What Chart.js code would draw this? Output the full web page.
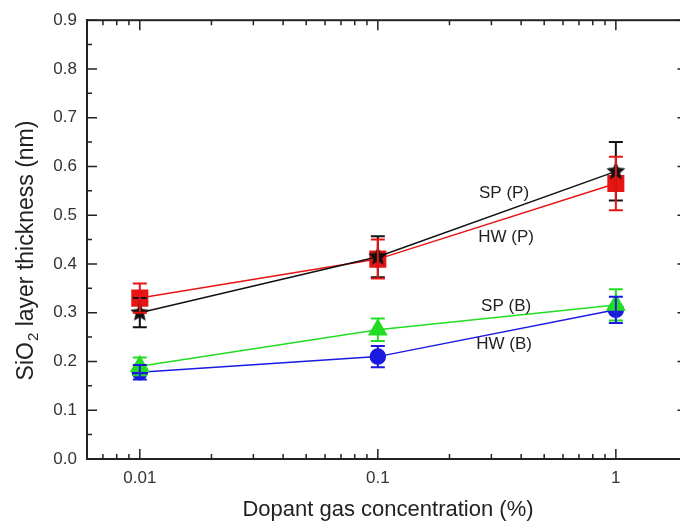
<!DOCTYPE html>
<html>
<head>
<meta charset="utf-8">
<script src="https://cdn.jsdelivr.net/npm/chart.js@4.4.1/dist/chart.umd.min.js"></script>
<style>
  html, body { margin:0; padding:0; background:#fff; overflow:hidden; }
  #wrap { width:680px; height:527px; overflow:hidden; }
</style>
</head>
<body>
<div id="wrap"><canvas id="myChart" width="700" height="527"></canvas></div>
<script>
// concentrations (%)
var conc = [0.01, 0.1, 1];

// SiO2 thickness (nm) and error bars
var hwP = [0.33, 0.41, 0.565];
var hwPErr = [0.03, 0.04, 0.055];
var spP = [0.30, 0.415, 0.59];
var spPErr = [0.03, 0.042, 0.06];
var spB = [0.19, 0.265, 0.316];
var spBErr = [0.018, 0.023, 0.032];
var hwB = [0.178, 0.21, 0.306];
var hwBErr = [0.015, 0.022, 0.027];

var xTicks = [0.01, 0.1, 1];

// series labels drawn inside the plot (data coords)
var labelText = ['SP (P)', 'HW (P)', 'SP (B)', 'HW (B)'];
var labelX = [0.339, 0.346, 0.346, 0.339];
var labelY = [0.545, 0.454, 0.314, 0.235];

var FONT = 'Arial, "Liberation Sans", sans-serif';

// filled five point star for SP (P)
function makeStar(r, color) {
  let c = document.createElement('canvas');
  c.width = r * 2 + 2; c.height = r * 2 + 2;
  let g = c.getContext('2d');
  g.translate(r + 1, r + 1);
  g.beginPath();
  for (let i = 0; i < 10; i++) {
    let rad = (i % 2 == 0) ? r : r * 0.45;
    let a = -Math.PI / 2 + i * Math.PI / 5;
    g.lineTo(rad * Math.cos(a), rad * Math.sin(a));
  }
  g.closePath();
  g.fillStyle = color;
  g.fill();
  return c;
}

function pts(ys) {
  return conc.map((x, i) => ({ x: x, y: ys[i] }));
}

// error bars + frame + ticks + axis titles + labels
const extras = {
  id: 'extras',
  afterDatasetsDraw(chart) {
    const ctx = chart.ctx, xs = chart.scales.x, ys = chart.scales.y;
    chart.data.datasets.forEach(ds => {
      ctx.save();
      ctx.strokeStyle = ds.borderColor;
      ctx.lineWidth = 2;
      ds.data.forEach((p, i) => {
        let px = xs.getPixelForValue(p.x);
        let top = ys.getPixelForValue(p.y + ds.err[i]);
        let bot = ys.getPixelForValue(p.y - ds.err[i]);
        ctx.beginPath();
        ctx.moveTo(px, top); ctx.lineTo(px, bot);
        ctx.moveTo(px - 7, top); ctx.lineTo(px + 7, top);
        ctx.moveTo(px - 7, bot); ctx.lineTo(px + 7, bot);
        ctx.stroke();
      });
      ctx.restore();
    });
  },
  afterDraw(chart) {
    const ctx = chart.ctx, a = chart.chartArea;
    const xs = chart.scales.x, ys = chart.scales.y;
    ctx.save();
    ctx.strokeStyle = '#222';
    ctx.lineWidth = 2;
    ctx.strokeRect(a.left, a.top, a.right - a.left, a.bottom - a.top);

    ctx.lineWidth = 1.5;
    ctx.beginPath();
    // y ticks every 0.05, major at 0.1
    for (let k = 0; k <= 18; k++) {
      let v = k * 0.05;
      let py = ys.getPixelForValue(v);
      let len = (k % 2 == 0) ? 10 : 5;
      ctx.moveTo(a.left, py); ctx.lineTo(a.left + len, py);
      ctx.moveTo(a.right, py); ctx.lineTo(a.right - len, py);
    }
    // x log ticks
    for (let e = -3; e <= 0; e++) {
      for (let m = 1; m <= 9; m++) {
        let v = m * Math.pow(10, e);
        if (v < xs.min || v > xs.max) continue;
        let px = xs.getPixelForValue(v);
        let len = (m == 1) ? 10 : 5;
        ctx.moveTo(px, a.bottom); ctx.lineTo(px, a.bottom - len);
        ctx.moveTo(px, a.top); ctx.lineTo(px, a.top + len);
      }
    }
    ctx.stroke();

    // axis titles
    ctx.fillStyle = '#222';
    ctx.textBaseline = 'middle';
    ctx.textAlign = 'center';
    ctx.font = '22px ' + FONT;
    ctx.fillText('Dopant gas concentration (%)', 388, 510);

    ctx.translate(27, 251);
    ctx.rotate(-Math.PI / 2);
    let t1 = 'SiO', t2 = '2', t3 = ' layer thickness (nm)';
    ctx.font = '23px ' + FONT;
    let w1 = ctx.measureText(t1).width, w3 = ctx.measureText(t3).width;
    ctx.font = '15px ' + FONT;
    let w2 = ctx.measureText(t2).width;
    let x0 = -(w1 + w2 + w3) / 2;
    ctx.textAlign = 'left';
    ctx.font = '23px ' + FONT;
    ctx.fillText(t1, x0, 0);
    ctx.font = '15px ' + FONT;
    ctx.fillText(t2, x0 + w1 + 1, 7);
    ctx.font = '23px ' + FONT;
    ctx.fillText(t3, x0 + w1 + w2 + 1, 0);
    ctx.restore();

    // series labels
    ctx.save();
    ctx.fillStyle = '#222';
    ctx.font = '17px ' + FONT;
    ctx.textAlign = 'center';
    ctx.textBaseline = 'middle';
    for (let i = 0; i < labelText.length; i++) {
      ctx.fillText(labelText[i], xs.getPixelForValue(labelX[i]), ys.getPixelForValue(labelY[i]));
    }
    ctx.restore();
  }
};

const ctx = document.getElementById('myChart');
new Chart(ctx, {
  type: 'line',
  data: {
    datasets: [
      {
        label: 'SP (P)', data: pts(spP), err: spPErr,
        borderColor: '#111111', backgroundColor: '#111111',
        pointStyle: makeStar(10, '#111111'), borderWidth: 1.5
      },
      {
        label: 'HW (P)', data: pts(hwP), err: hwPErr,
        borderColor: '#e81515', backgroundColor: '#e81515',
        pointStyle: 'rect', pointRadius: 11, borderWidth: 1.5
      },
      {
        label: 'SP (B)', data: pts(spB), err: spBErr,
        borderColor: '#22dd22', backgroundColor: '#22dd22',
        pointStyle: 'triangle', pointRadius: 10, borderWidth: 1.5
      },
      {
        label: 'HW (B)', data: pts(hwB), err: hwBErr,
        borderColor: '#1a1ae0', backgroundColor: '#1a1ae0',
        pointStyle: 'circle', pointRadius: 7.5, borderWidth: 1.5
      }
    ]
  },
  options: {
    responsive: false,
    animation: false,
    layout: { padding: { left: 0, top: 15, right: 12, bottom: 0 } },
    plugins: { legend: { display: false }, tooltip: { enabled: false } },
    elements: { line: { tension: 0 }, point: { borderWidth: 0 } },
    scales: {
      x: {
        type: 'logarithmic',
        min: 0.006, max: 2,
        grid: { display: false, drawTicks: false },
        border: { display: true, color: '#222', width: 2 },
        afterFit: s => { s.height = 68; },
        afterBuildTicks: s => { s.ticks = xTicks.map(v => ({ value: v })); },
        ticks: {
          padding: 9, color: '#333', font: { size: 17, family: FONT },
          autoSkip: false, maxRotation: 0,
          callback: v => String(v)
        }
      },
      y: {
        min: 0, max: 0.9,
        grid: { display: false, drawTicks: false },
        border: { display: true, color: '#222', width: 2 },
        afterFit: s => { s.width = 87; },
        ticks: {
          stepSize: 0.1, padding: 10, color: '#333', font: { size: 17, family: FONT },
          callback: v => v.toFixed(1)
        }
      }
    }
  },
  plugins: [extras]
});
</script>
</body>
</html>
